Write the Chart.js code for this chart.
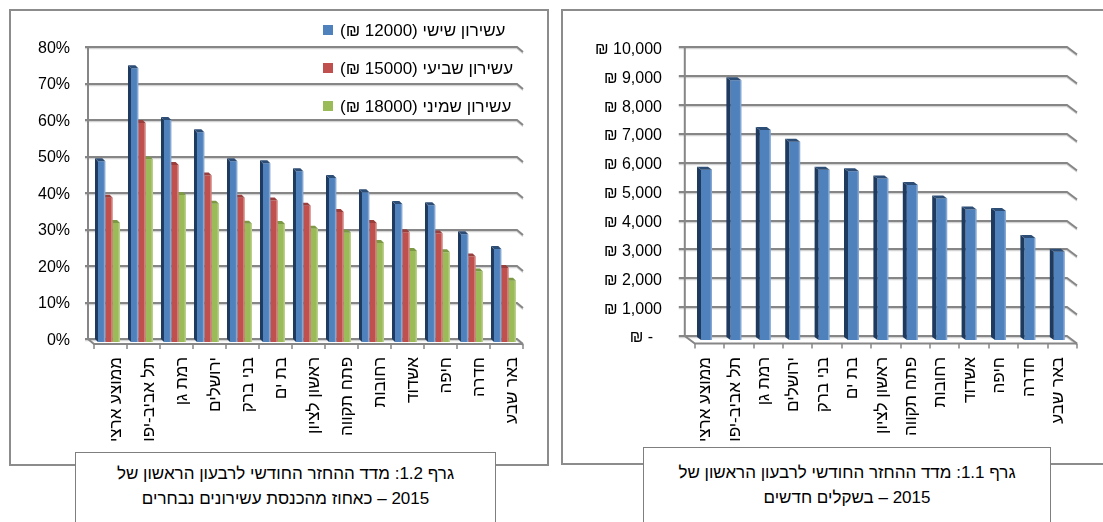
<!DOCTYPE html>
<html>
<head>
<meta charset="utf-8">
<script src="https://cdn.jsdelivr.net/npm/chart.js@4.4.1/dist/chart.umd.min.js"></script>
<style>
  body { margin: 0; width: 1103px; height: 522px; overflow: hidden; background: #fff; position: relative;
         font-family: "Liberation Sans", Arial, "DejaVu Sans", sans-serif; }
  .frame { position: absolute; border: 2px solid #8c8c8c; box-sizing: border-box; }
  .caption { position: absolute; border: 1.5px solid #7f7f7f; background: #fff; box-sizing: border-box;
             text-align: center; font-size: 17px; line-height: 25px; color: #000; direction: rtl; }
  canvas { position: absolute; }
</style>
</head>
<body>
<div class="frame" style="left:9px;top:9px;width:540px;height:457px"></div>
<div class="frame" style="left:561px;top:9px;width:560px;height:456px"></div>
<canvas id="pctChart" width="534" height="450" style="left:12px;top:12px"></canvas>
<canvas id="rentChart" width="539" height="450" style="left:564px;top:12px"></canvas>
<div class="caption" style="left:75px;top:452px;width:421px;height:80px;padding-top:8px">
  גרף 1.2: מדד ההחזר החודשי לרבעון הראשון של<br>2015 – כאחוז מהכנסת עשירונים נבחרים
</div>
<div class="caption" style="left:643px;top:447px;width:408px;height:85px;padding-top:12px">
  גרף 1.1: מדד ההחזר החודשי לרבעון הראשון של<br>2015 – בשקלים חדשים
</div>
<script>
const categories = ['ממוצע ארצי', 'תל אביב-יפו', 'רמת גן', 'ירושלים', 'בני ברק', 'בת ים', 'ראשון לציון',
                    'פתח תקווה', 'רחובות', 'אשדוד', 'חיפה', 'חדרה', 'באר שבע'];

// percent of income, by decile
const seriesNames = ['עשירון שישי (12000 ₪)', 'עשירון שביעי (15000 ₪)', 'עשירון שמיני (18000 ₪)'];
const decile6 = [49.5, 75, 60.8, 57.5, 49.5, 49, 46.8, 44.9, 41, 37.8, 37.5, 29.5, 25.5];
const decile7 = [39.5, 60, 48.5, 45.6, 39.5, 38.8, 37.3, 35.6, 32.6, 30.1, 29.7, 23.4, 20.3];
const decile8 = [32.6, 50, 40.3, 37.9, 32.4, 32.3, 31, 29.9, 27.1, 24.9, 24.6, 19.3, 16.8];
const pctMax = 80, pctStep = 10;

// monthly rent in NIS
const rentNis = [5900, 9000, 7280, 6870, 5900, 5850, 5600, 5370, 4900, 4520, 4470, 3530, 3060];
const rentMax = 10000, rentStep = 1000;

const FONT = '"Liberation Sans", Arial, "DejaVu Sans", sans-serif';
Chart.defaults.font.family = FONT;
Chart.defaults.font.size = 16;
Chart.defaults.color = '#000';

function path(ctx, pts) {
    ctx.beginPath();
    pts.forEach((p, i) => i ? ctx.lineTo(p[0], p[1]) : ctx.moveTo(p[0], p[1]));
}

// back wall + floor of the excel style 3d chart
const wallPlugin = {
    id: 'wall',
    beforeDatasetsDraw(chart, args, o) {
        const {ctx, chartArea: a, scales: {y}} = chart;
        const L = a.left - o.dx, R = a.right - o.dx;
        const stroke = (pts, color, w) => {
            path(ctx, pts);
            ctx.strokeStyle = color;
            ctx.lineWidth = w;
            ctx.stroke();
        };
        ctx.save();
        y.ticks.forEach(t => {
            const py = Math.round(y.getPixelForValue(t.value) - o.dy);
            stroke([[L - o.tick, py + 1.5], [R, py + 1.5], [R + o.tailX, py + 1.5 + o.tailY]], '#d4d4d4', 1.5);
            stroke([[L - o.tick, py], [R, py], [R + o.tailX, py + o.tailY]], '#868686', 2);
        });
        const top = Math.round(y.getPixelForValue(y.max) - o.dy);
        const bot = Math.round(y.getPixelForValue(0) - o.dy);
        stroke([[L, top], [L, bot], [L + o.tailX, bot + o.tailY], [R + o.tailX, bot + o.tailY]], '#868686', 2);
        const n = chart.data.labels.length;
        const step = (a.right - a.left) / n;
        for (let i = 0; i <= n; i++) {
            const px = Math.round(L + o.tailX + i * step);
            stroke([[px, bot + o.tailY], [px, bot + o.tailY + 5]], '#868686', 1.5);
        }
        ctx.restore();
    }
};

// dark side face and top cap on each bar
const barDepth = {
    id: 'barDepth',
    afterDatasetDraw(chart, args, o) {
        const ctx = chart.ctx;
        const ds = chart.data.datasets[args.index];
        ctx.save();
        args.meta.data.forEach(bar => {
            const l = bar.x - bar.width / 2, r = bar.x + bar.width / 2, t = bar.y, b = bar.base;
            ctx.fillStyle = ds.sideColor;
            path(ctx, [[l - o.dx, t - o.dy], [l, t], [l, b], [l - o.dx, b - o.dy]]);
            ctx.fill();
            ctx.fillStyle = ds.capColor;
            path(ctx, [[l - o.dx, t - o.dy], [r - o.dx, t - o.dy], [r, t], [l, t]]);
            ctx.fill();
            ctx.fillStyle = 'rgba(255,255,255,0.3)';
            ctx.fillRect(r - 1.5, t, 1.5, b - t);
        });
        ctx.restore();
    }
};

const boxLegend = {
    id: 'boxLegend',
    afterDraw(chart, args, o) {
        if (!o.show) return;
        const ctx = chart.ctx;
        ctx.save();
        ctx.font = '17px ' + FONT;
        ctx.textBaseline = 'middle';
        ctx.direction = 'rtl';
        ctx.textAlign = 'left';
        chart.data.datasets.forEach((ds, i) => {
            const cy = o.y + i * o.gap;
            ctx.fillStyle = ds.backgroundColor;
            ctx.fillRect(o.x, cy - 5, 10, 10);
            ctx.fillStyle = '#000';
            ctx.fillText(ds.label, o.x + 17, cy + 1);
        });
        ctx.restore();
    }
};

new Chart(document.getElementById('pctChart'), {
    type: 'bar',
    data: {
        labels: categories,
        datasets: [
            {label: seriesNames[0], data: decile6, backgroundColor: '#4f81bd', sideColor: '#1f3a5f', capColor: '#2c4d75'},
            {label: seriesNames[1], data: decile7, backgroundColor: '#c0504d', sideColor: '#8b3a38', capColor: '#9b3f3c'},
            {label: seriesNames[2], data: decile8, backgroundColor: '#9bbb59', sideColor: '#6f8a3a', capColor: '#7c9a44'}
        ]
    },
    options: {
        responsive: false,
        animation: false,
        events: [],
        layout: {padding: {top: 38, right: 24.5, left: 0, bottom: 0}},
        datasets: {bar: {categoryPercentage: 0.667, barPercentage: 1, borderWidth: 0}},
        plugins: {
            legend: {display: false},
            tooltip: {enabled: false},
            wall: {dx: 4.5, dy: 3, tailX: 6, tailY: 5, tick: 3},
            barDepth: {dx: 3, dy: 3},
            boxLegend: {show: true, x: 311, y: 18, gap: 38}
        },
        scales: {
            x: {
                grid: {display: false, drawTicks: false},
                border: {display: false},
                ticks: {minRotation: 90, maxRotation: 90, autoSkip: false, padding: 15, labelOffset: 7, font: {size: 17}},
                afterFit: s => { s.height = 120; }
            },
            y: {
                min: 0, max: pctMax,
                grid: {display: false, drawTicks: false},
                border: {display: false},
                ticks: {stepSize: pctStep, padding: 22.5, labelOffset: -1.5, callback: v => v + '%'},
                afterFit: s => { s.width = 80.5; }
            }
        }
    },
    plugins: [wallPlugin, barDepth, boxLegend]
});

new Chart(document.getElementById('rentChart'), {
    type: 'bar',
    data: {
        labels: categories,
        datasets: [
            {label: 'שכר דירה', data: rentNis, backgroundColor: '#4f81bd', sideColor: '#1f3a5f', capColor: '#2c4d75'}
        ]
    },
    options: {
        responsive: false,
        animation: false,
        events: [],
        layout: {padding: {top: 39, right: 29, left: 0, bottom: 0}},
        datasets: {bar: {categoryPercentage: 0.374, barPercentage: 1, borderWidth: 0}},
        plugins: {
            legend: {display: false},
            tooltip: {enabled: false},
            wall: {dx: 7, dy: 4, tailX: 10, tailY: 7.5, tick: 6},
            barDepth: {dx: 4, dy: 3},
            boxLegend: {show: false}
        },
        scales: {
            x: {
                grid: {display: false, drawTicks: false},
                border: {display: false},
                ticks: {minRotation: 90, maxRotation: 90, autoSkip: false, padding: 17, labelOffset: -1, font: {size: 17}},
                afterFit: s => { s.height = 122; }
            },
            y: {
                min: 0, max: rentMax,
                grid: {display: false, drawTicks: false},
                border: {display: false},
                ticks: {
                    stepSize: rentStep, padding: 29.8, labelOffset: -2,
                    callback: v => v === 0 ? '₪ -  ' : '₪ ' + v.toLocaleString('en-US')
                },
                afterFit: s => { s.width = 127.8; }
            }
        }
    },
    plugins: [wallPlugin, barDepth, boxLegend]
});
</script>
</body>
</html>
